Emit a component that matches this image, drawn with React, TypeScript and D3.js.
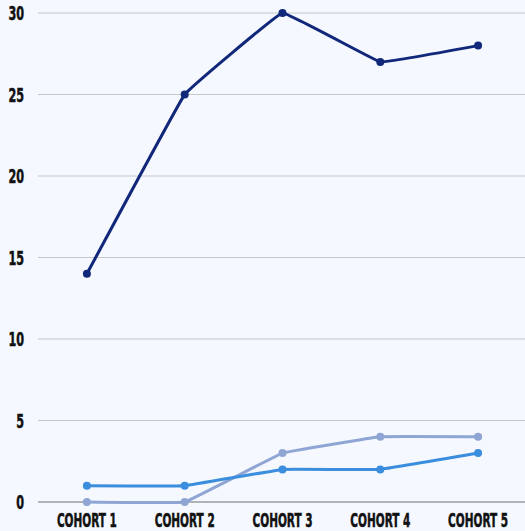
import React from "react";
import * as d3 from "d3";

const categories = ["COHORT 1", "COHORT 2", "COHORT 3", "COHORT 4", "COHORT 5"];
const seriesNavy = [14, 25, 30, 27, 28];
const seriesBlue = [1, 1, 2, 2, 3];
const seriesLight = [0, 0, 3, 4, 4];
const yTicks = [0, 5, 10, 15, 20, 25, 30];

const W = 525;
const H = 531;
const left = 38;
const right = 527;
const top = 13;
const bottom = 502;
const FONT = "'DejaVu Sans Condensed', 'DejaVu Sans', sans-serif";
const SQ = 0.7;

export default function App() {
  const x = d3.scaleBand<string>().domain(categories).range([left, right]);
  const y = d3.scaleLinear().domain([0, 30]).range([bottom, top]);
  const cx = (c: string) => (x(c) as number) + x.bandwidth() / 2;
  const line = d3
    .line<number>()
    .x((_, i) => cx(categories[i]))
    .y((d) => y(d))
    .curve(d3.curveCardinal.tension(0.85));

  const series = [
    { data: seriesLight, color: "#8fa6d4" },
    { data: seriesBlue, color: "#3b8ddd" },
    { data: seriesNavy, color: "#11277a" },
  ];

  return (
    <svg
      width={W}
      height={H}
      style={{ position: "fixed", left: 0, top: 0, background: "#f5f8fe" }}
    >
      <rect x={0} y={0} width={W} height={H} fill="#f5f8fe" />
      {yTicks.map((t) => (
        <g key={t}>
          <line
            x1={left}
            x2={right}
            y1={y(t)}
            y2={y(t)}
            stroke={t === 0 ? "#9a9ca3" : "#c6c8cc"}
            strokeWidth={t === 0 ? 1.5 : 1}
          />
          <text
            transform={`translate(24,${y(t) + 7}) scale(${SQ},1)`}
            textAnchor="end"
            fontFamily={FONT}
            fontWeight={700}
            fontSize={19}
            fill="#111"
            stroke="#111"
            strokeWidth={0.5}
            textLength={(String(t).length * 7.8) / SQ}
            lengthAdjust="spacingAndGlyphs"
          >
            {t}
          </text>
        </g>
      ))}
      {categories.map((c) => (
        <text
          key={c}
          transform={`translate(${cx(c)},527) scale(${SQ},1)`}
          textAnchor="middle"
          fontFamily={FONT}
          fontWeight={700}
          fontSize={19}
          fill="#111"
          stroke="#111"
          strokeWidth={0.5}
          textLength={60 / SQ}
          lengthAdjust="spacingAndGlyphs"
        >
          {c}
        </text>
      ))}
      {series.map((s, si) => (
        <g key={si}>
          <path d={line(s.data) || ""} fill="none" stroke={s.color} strokeWidth={3} />
          {s.data.map((v, i) => (
            <circle key={i} cx={cx(categories[i])} cy={y(v)} r={4} fill={s.color} />
          ))}
        </g>
      ))}
    </svg>
  );
}
